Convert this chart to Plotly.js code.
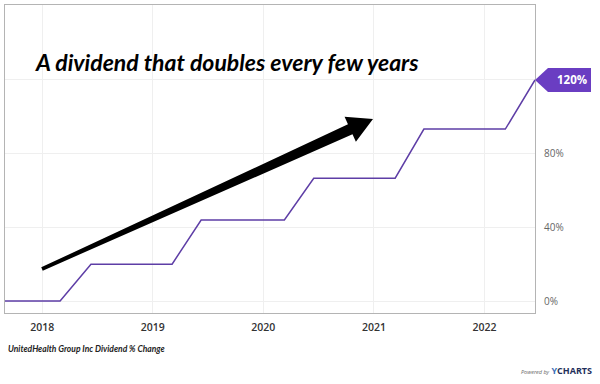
<!DOCTYPE html>
<html>
<head>
<meta charset="utf-8">
<script src="https://cdn.plot.ly/plotly-3.0.1.min.js"></script>
<style>
  html, body { margin: 0; padding: 0; background: #fff; }
  #chart { width: 600px; height: 384px; }
</style>
</head>
<body>
<div id="chart"></div>
<script>
// ---- data ----
const dates = [
  '2017-08-31', '2017-12-01', '2018-03-01', '2018-06-11', '2018-09-10', '2018-12-10',
  '2019-03-06', '2019-06-10', '2019-09-10', '2019-12-10',
  '2020-03-11', '2020-06-16', '2020-09-10', '2020-12-10',
  '2021-03-12', '2021-06-15', '2021-09-10', '2021-12-10',
  '2022-03-11', '2022-06-17'
];
const pctChange = [
  0, 0, 0, 20, 20, 20,
  20, 44, 44, 44,
  44, 66.67, 66.67, 66.67,
  66.67, 93.33, 93.33, 93.33,
  93.33, 120
];
const yTickVals = [0, 40, 80, 120];
const yTickText = ['0%', '40%', '80%', ''];
const xTickVals = ['2018-01-01', '2019-01-01', '2020-01-01', '2021-01-01', '2022-01-01'];
const xTickText = ['2018', '2019', '2020', '2021', '2022'];
const seriesName = 'UnitedHealth Group Inc Dividend % Change';
const headline = 'A dividend that doubles every few years';

// ---- layout helpers ----
const W = 600, H = 384;
const M = {l: 5, r: 65, t: 5, b: 71};
const PW = W - M.l - M.r, PH = H - M.t - M.b;
const px = x => (x - M.l) / PW;
const py = y => (H - M.b - y) / PH;
const yMin = -6.5, yMax = 160.7;
const pxPerUnit = PH / (yMax - yMin);

// tapered arrow polygon (pixel geometry -> paper)
function arrowPath(tail, tip, wTail, wBase, wHead, headLen) {
  const dx = tip[0] - tail[0], dy = tip[1] - tail[1];
  const L = Math.hypot(dx, dy);
  const u = [dx / L, dy / L], n = [-u[1], u[0]];
  const B = [tip[0] - headLen * u[0], tip[1] - headLen * u[1]];
  const p = (c, s, w) => [c[0] + s * w * n[0], c[1] + s * w * n[1]];
  const pts = [p(tail, -1, wTail), p(B, -1, wBase), p(B, -1, wHead), tip,
               p(B, 1, wHead), p(B, 1, wBase), p(tail, 1, wTail)];
  return 'M' + pts.map(q => px(q[0]).toFixed(5) + ',' + py(q[1]).toFixed(5)).join(' L') + ' Z';
}

const lastVal = pctChange[pctChange.length - 1];
const tagH = 12 / pxPerUnit;

const trace = {
  x: dates, y: pctChange, type: 'scatter', mode: 'lines',
  line: {color: '#5e3ea6', width: 1.5},
  hoverinfo: 'skip', name: seriesName
};

const layout = {
  width: W, height: H,
  margin: M,
  paper_bgcolor: '#ffffff', plot_bgcolor: '#ffffff',
  showlegend: false,
  xaxis: {
    type: 'date', range: [dates[0], dates[dates.length - 1]],
    tickvals: xTickVals, ticktext: xTickText,
    showgrid: true, gridcolor: '#efefef', gridwidth: 1,
    showline: true, mirror: true, linecolor: '#b4b4b4', linewidth: 1,
    ticks: '', zeroline: false,
    tickfont: {family: 'Open Sans', size: 10.5, color: '#333333', weight: 600},
    ticklabelstandoff: 4
  },
  yaxis: {
    range: [yMin, yMax], side: 'right',
    tickvals: yTickVals, ticktext: yTickText,
    showgrid: true, gridcolor: '#efefef', gridwidth: 1,
    showline: true, mirror: true, linecolor: '#b4b4b4', linewidth: 1,
    ticks: '', zeroline: false,
    tickfont: {family: 'Open Sans', size: 10, color: '#666666'},
    ticklabelstandoff: 6
  },
  shapes: [
    {type: 'path', xref: 'paper', yref: 'paper',
     path: arrowPath([42, 269], [373, 119], 1.8, 5.5, 13.7, 25),
     fillcolor: '#000000', line: {width: 0}},
    {type: 'path', xref: 'paper', yref: 'y',
     path: 'M' + px(535) + ',' + lastVal +
           ' L' + px(548) + ',' + (lastVal + tagH) +
           ' L' + px(591) + ',' + (lastVal + tagH) +
           ' L' + px(591) + ',' + (lastVal - tagH) +
           ' L' + px(548) + ',' + (lastVal - tagH) + ' Z',
     fillcolor: '#6a3dc2', line: {width: 0}}
  ],
  annotations: [
    {xref: 'paper', yref: 'paper', x: px(227), y: py(62), xanchor: 'center', yanchor: 'middle',
     text: '<b><i>' + headline + '</i></b>', showarrow: false,
     font: {family: 'Lato', size: 23, color: '#000000'}},
    {xref: 'paper', yref: 'y', x: px(572), y: lastVal, xanchor: 'center', yanchor: 'middle',
     text: '<b>' + lastVal + '%</b>', showarrow: false,
     font: {family: 'Open Sans', size: 11.5, color: '#ffffff'}},
    {xref: 'paper', yref: 'paper', x: px(6), y: py(349), xanchor: 'left', yanchor: 'middle',
     text: '<b><i>' + seriesName + '</i></b>', showarrow: false,
     font: {family: 'Lato', size: 8.5, color: '#222222'}},
    {xref: 'paper', yref: 'paper', x: px(594), y: py(371), xanchor: 'right', yanchor: 'middle',
     text: '<span style="font-size:5.5px;color:#666"><i>Powered by</i></span> <b><span style="color:#3b6fb6">Y</span>CHARTS</b>',
     showarrow: false,
     font: {family: 'Open Sans', size: 9, color: '#1f2f5a'}}
  ]
};

Plotly.newPlot('chart', [trace], layout, {staticPlot: true, displayModeBar: false});
</script>
</body>
</html>
